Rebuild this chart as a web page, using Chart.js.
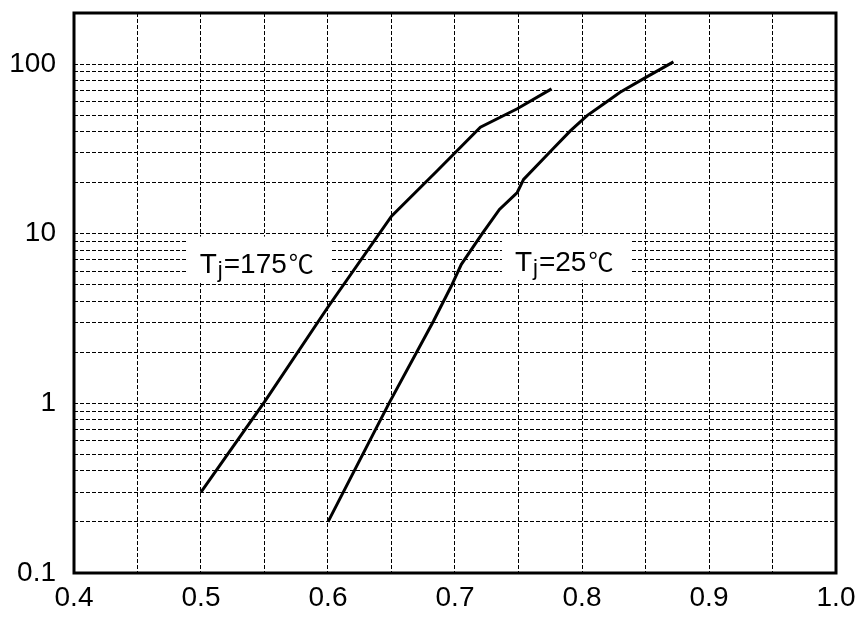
<!DOCTYPE html>
<html>
<head>
<meta charset="utf-8">
<script src="https://cdn.jsdelivr.net/npm/chart.js@4/dist/chart.umd.min.js"></script>
<style>
  html, body { margin: 0; padding: 0; background: #fff; }
  #wrap { width: 863px; height: 621px; }
</style>
</head>
<body>
<div id="wrap"><canvas id="chart" width="863" height="621"></canvas></div>
<script>
// forward voltage (V) vs forward current (A)
const vf175 = [0.5, 0.55, 0.6, 0.65, 0.686, 0.72, 0.749, 0.776];
const if175 = [0.3, 1.02, 3.7, 12.7, 23.5, 42.4, 54.5, 71.4];

const vf25 = [0.6, 0.648, 0.683, 0.697, 0.705, 0.721, 0.735, 0.749, 0.754, 0.777, 0.791, 0.804, 0.817, 0.83, 0.851, 0.872];
const if25 = [0.2, 1.0, 3.05, 4.9, 6.6, 9.9, 13.9, 17.5, 20.9, 31.6, 40.5, 49.7, 58.2, 68.2, 84, 103];

const xGrid = [0.4, 0.45, 0.5, 0.55, 0.6, 0.65, 0.7, 0.75, 0.8, 0.85, 0.9, 0.95, 1.0];
const xLabels = [0.4, 0.5, 0.6, 0.7, 0.8, 0.9, 1.0];
const yGrid = [0.1, 0.2, 0.3, 0.4, 0.5, 0.6, 0.7, 0.8, 0.9,
               1, 2, 3, 4, 5, 6, 7, 8, 9,
               10, 20, 30, 40, 50, 60, 70, 80, 90,
               100, 200];
const yLabels = [0.1, 1, 10, 100];

const FONT = '"Liberation Sans", Arial, sans-serif';

const toPoints = (xs, ys) => xs.map((x, i) => ({ x: x, y: ys[i] }));

// curve labels "Tj=..℃" with subscript j, on a white box
const curveLabels = {
  id: 'curveLabels',
  afterDatasetsDraw(chart) {
    const ctx = chart.ctx;
    const xs = chart.scales.x, ys = chart.scales.y;
    const items = [
      { x: 0.499, y: 5.9, num: '175' },
      { x: 0.7472, y: 6.0, num: '25' }
    ];
    ctx.save();
    ctx.textBaseline = 'alphabetic';
    ctx.textAlign = 'left';
    items.forEach(it => {
      const x0 = xs.getPixelForValue(it.x);
      const py = ys.getPixelForValue(it.y);
      const parts = [
        { t: 'T', f: '28px ' + FONT, dy: 0, gap: 1 },
        { t: 'j', f: '22px ' + FONT, dy: 4, gap: 1 },
        { t: '=' + it.num, f: '28px ' + FONT, dy: 0, gap: 2 },
        { t: '\u2103', f: '25px "Noto Sans CJK SC", sans-serif', dy: 0, gap: 0 }
      ];
      let w = 0;
      parts.forEach(p => { ctx.font = p.f; p.w = ctx.measureText(p.t).width; w += p.w + p.gap; });
      ctx.fillStyle = '#fff';
      ctx.fillRect(x0 - 13, py - 36, w + 30, 45);
      ctx.fillStyle = '#000';
      let px = x0;
      parts.forEach(p => {
        ctx.font = p.f;
        ctx.fillText(p.t, px, py + p.dy);
        px += p.w + p.gap;
      });
    });
    ctx.restore();
  }
};

// thick frame around plot area
const frame = {
  id: 'frame',
  afterDraw(chart) {
    const a = chart.chartArea;
    const ctx = chart.ctx;
    ctx.save();
    ctx.strokeStyle = '#000';
    ctx.lineWidth = 3;
    ctx.strokeRect(a.left, a.top, a.right - a.left, a.bottom - a.top);
    ctx.restore();
  }
};

const whiteBg = {
  id: 'whiteBg',
  beforeDraw(chart) {
    const ctx = chart.ctx;
    ctx.save();
    ctx.fillStyle = '#fff';
    ctx.fillRect(0, 0, chart.width, chart.height);
    ctx.restore();
  }
};

new Chart(document.getElementById('chart'), {
  type: 'line',
  data: {
    datasets: [
      {
        label: 'Tj=175',
        data: toPoints(vf175, if175),
        borderColor: '#000',
        borderWidth: 3,
        pointRadius: 0,
        tension: 0
      },
      {
        label: 'Tj=25',
        data: toPoints(vf25, if25),
        borderColor: '#000',
        borderWidth: 3,
        pointRadius: 0,
        tension: 0
      }
    ]
  },
  options: {
    responsive: false,
    animation: false,
    layout: { padding: { top: 13, right: 27, left: 0, bottom: 0 } },
    plugins: {
      legend: { display: false },
      tooltip: { enabled: false }
    },
    scales: {
      x: {
        type: 'linear',
        min: 0.4,
        max: 1.0,
        afterBuildTicks: s => { s.ticks = xGrid.map(v => ({ value: v })); },
        afterFit: s => { s.height = 48; s.paddingLeft = 0; s.paddingRight = 0; },
        grid: { color: '#000', lineWidth: 1, drawTicks: false },
        border: { display: false, dash: [4, 2] },
        ticks: {
          autoSkip: false,
          maxRotation: 0,
          padding: 8,
          color: '#000',
          font: { family: FONT, size: 28 },
          callback: v => xLabels.some(l => Math.abs(l - v) < 1e-6) ? v.toFixed(1) : ''
        }
      },
      y: {
        type: 'logarithmic',
        min: 0.1,
        max: 200,
        afterBuildTicks: s => { s.ticks = yGrid.map(v => ({ value: v })); },
        afterFit: s => { s.width = 74; s.paddingTop = 0; s.paddingBottom = 0; },
        grid: { color: '#000', lineWidth: 1, drawTicks: false },
        border: { display: false, dash: [4, 2] },
        ticks: {
          autoSkip: false,
          padding: 18,
          color: '#000',
          font: { family: FONT, size: 28 },
          callback: v => yLabels.some(l => Math.abs(l - v) < 1e-9) ? String(v) : ''
        }
      }
    }
  },
  plugins: [whiteBg, curveLabels, frame]
});
</script>
</body>
</html>
